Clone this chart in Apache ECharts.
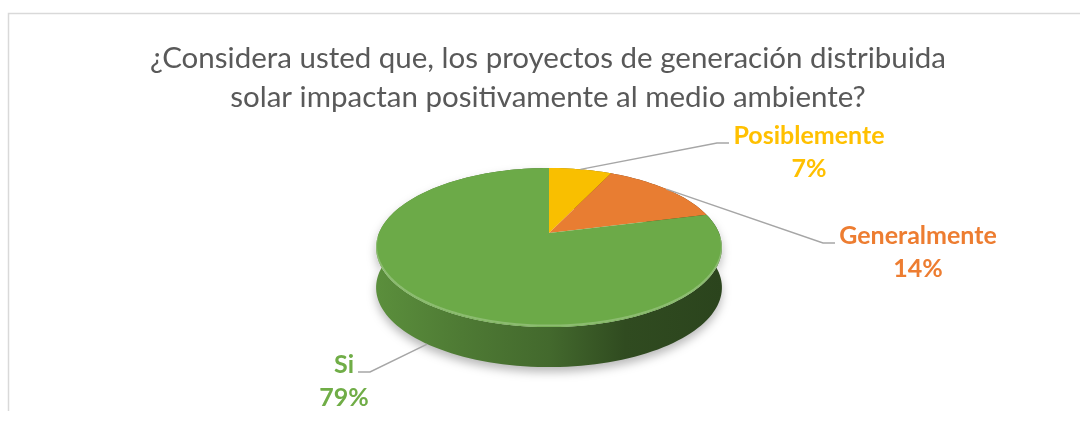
<!DOCTYPE html>
<html>
<head>
<meta charset="utf-8">
<script src="https://cdn.jsdelivr.net/npm/echarts@6/dist/echarts.min.js"></script>
<style>
  html, body { margin: 0; padding: 0; background: #fff; }
  #chart { width: 1080px; height: 421px; }
</style>
</head>
<body>
<div id="chart"></div>
<script>
// data
const categories = ['Posiblemente', 'Generalmente', 'Si']
const values = [7, 14, 79]
const colors = ['#F9BF00', '#E87D32', '#6CAA48']
const labelColors = ['#FFC000', '#ED7D31', '#70AD47']
const titleLines = ['¿Considera usted que, los proyectos de generación distribuida', 'solar impactan positivamente al medio ambiente?']

// layout of the tilted pie (pixels)
const CX = 549, CY = 233, A = 170, B = 76.9, K = 0.183, DEPTH = 40
// label centres, leader elbows and ends, anchor on the bottom rim or not
const labelPos = [[809, 152], [918, 252], [344, 381]]
const elbowPos = [[717, 143], [823, 243], [370, 372]]
const elbowEnd = [[729, 143], [835, 243], [358, 372]]
const anchorLow = [false, false, true]

const total = values.reduce((a, b) => a + b, 0)

const darken = (hex, f) => {
  const n = parseInt(hex.slice(1), 16)
  const r = Math.round(((n >> 16) & 255) * (1 - f))
  const g = Math.round(((n >> 8) & 255) * (1 - f))
  const b = Math.round((n & 255) * (1 - f))
  return 'rgb(' + r + ',' + g + ',' + b + ')'
}

const proj = (theta, dz, s) => {
  s = s == null ? 1 : s
  const u = Math.sin(theta) * s
  const v = -Math.cos(theta) * s
  const d = 1 - K * v
  return [CX + A * u / d, CY + B * v / d + dz]
}

const arcPoints = (t1, t2, dz, s) => {
  const pts = []
  const n = Math.max(2, Math.ceil((t2 - t1) / (Math.PI / 90)))
  for (let i = 0; i <= n; i++) {
    pts.push(proj(t1 + (t2 - t1) * i / n, dz, s))
  }
  return pts
}

const renderItem = (params, api) => {
  const i = params.dataIndex
  let before = 0
  for (let j = 0; j < i; j++) before += values[j]
  const val = api.value(0)
  const t1 = before / total * Math.PI * 2
  const t2 = (before + val) / total * Math.PI * 2
  const mid = (t1 + t2) / 2
  const base = colors[i]

  const top = [[CX, CY]].concat(arcPoints(t1, t2, 0))
  const side = arcPoints(t1, t2, 0).concat(arcPoints(t1, t2, DEPTH).reverse())
  const front = t2 > Math.PI / 2 && t1 < Math.PI * 1.5

  const sideFill = new echarts.graphic.LinearGradient(CX - A * 1.02, 0, CX + A * 1.02, 0, [
    { offset: 0, color: darken(base, 0.16) },
    { offset: 0.25, color: darken(base, 0.28) },
    { offset: 0.5, color: darken(base, 0.38) },
    { offset: 0.72, color: darken(base, 0.56) },
    { offset: 1, color: darken(base, 0.6) },
  ], true)

  const children = [
    {
      type: 'polygon',
      z2: 1,
      shape: { points: side },
      style: front ? {
        fill: sideFill,
        shadowBlur: 10,
        shadowOffsetY: 5,
        shadowColor: 'rgba(0,0,0,0.28)',
      } : { fill: sideFill },
    },
    {
      type: 'polygon',
      z2: 10,
      shape: { points: top },
      style: { fill: base },
    },
  ]

  // soft bevel highlight along the front rim
  const h1 = Math.max(t1, Math.PI * 0.52), h2 = Math.min(t2, Math.PI * 1.48)
  if (h2 > h1) {
    children.push({
      type: 'polyline',
      z2: 11,
      shape: { points: arcPoints(h1, h2, -1.5, 1) },
      style: { stroke: 'rgba(255,255,255,0.22)', lineWidth: 2, fill: null },
    })
  }

  const anchor = proj(mid, anchorLow[i] ? DEPTH : 0)
  children.push({
    type: 'polyline',
    z2: 20,
    shape: { points: [anchor, elbowPos[i], elbowEnd[i]] },
    style: { stroke: '#A6A6A6', lineWidth: 1.4, fill: null },
  })
  children.push({
    type: 'text',
    z2: 21,
    style: {
      text: categories[i] + '\n' + Math.round(val / total * 100) + '%',
      x: labelPos[i][0],
      y: labelPos[i][1],
      fill: labelColors[i],
      fontFamily: 'Lato',
      fontWeight: 'bold',
      fontSize: 25,
      lineHeight: 33,
      align: 'center',
      verticalAlign: 'middle',
    },
  })
  return { type: 'group', children: children }
}

const chart = echarts.init(document.getElementById('chart'))
chart.setOption({
  animation: false,
  backgroundColor: '#fff',
  graphic: [
    {
      type: 'polyline',
      shape: { points: [[8.5, 411], [8.5, 13.5], [1080, 13.5]] },
      style: { stroke: '#D9D9D9', lineWidth: 1.5, fill: null },
    },
    {
      type: 'text',
      style: {
        text: titleLines.join('\n'),
        x: 548,
        y: 78,
        fill: '#595959',
        fontFamily: 'Lato',
        fontSize: 29.5,
        lineHeight: 39,
        align: 'center',
        verticalAlign: 'middle',
      },
    },
  ],
  series: [
    {
      type: 'custom',
      coordinateSystem: 'none',
      renderItem: renderItem,
      data: values.map((v, i) => ({ name: categories[i], value: [v] })),
    },
  ],
})
</script>
</body>
</html>
